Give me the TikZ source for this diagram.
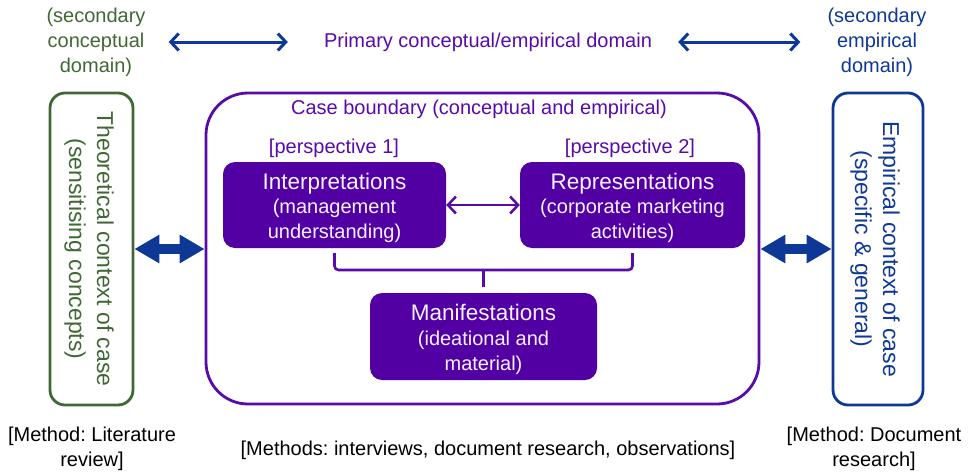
\documentclass[tikz,border=0pt]{standalone}
\usepackage{fontspec}
\setmainfont{Liberation Sans}
\usetikzlibrary{arrows.meta}

\definecolor{secgreen}{RGB}{64,104,52}
\definecolor{secblue}{RGB}{14,56,150}
\definecolor{caseviolet}{RGB}{88,10,170}
\definecolor{boxviolet}{RGB}{82,0,164}
\definecolor{boxtext}{RGB}{246,242,255}

\newcommand\fsz[2]{\fontsize{#1}{#2}\selectfont}
% title line of a phase box, with a strut that lowers the block a little
\newcommand\phasetitle[1]{{\fsz{22.5}{25}\rule{0pt}{22pt}#1}}
\frenchspacing

\begin{document}
\begin{tikzpicture}[x=1pt,y=-1pt,
  lbl/.style={inner sep=0pt, align=center, font=\fsz{20}{25}},
  method/.style={inner sep=0pt, align=center, font=\fsz{20}{25}},
  ctxbox/.style={draw, line width=2.8pt, rounded corners=15pt, inner sep=0pt,
                 minimum height=312pt},
  ctxtext/.style={inner sep=0pt, align=center, rotate=-90, font=\fsz{23}{28}},
  phase/.style={fill=boxviolet, rounded corners=12pt, text=boxtext, align=center,
                inner sep=0pt, font=\fsz{20}{24.5}},
  thin arrow/.style={line width=3pt,
                     {Straight Barb[length=8pt,width=17pt]}-{Straight Barb[length=8pt,width=17pt]}},
  fat arrow/.style={secblue, line width=10pt,
                    {Triangle[length=25pt,width=27pt]}-{Triangle[length=25pt,width=27pt]}}
]
\useasboundingbox (0,0) rectangle (969,474);

% domain headings
\node[lbl, text=secgreen] (secL) at (96,42) {(secondary\\conceptual\\domain)};
\node[lbl, text=caseviolet] (primary) at (488,42) {Primary conceptual/empirical domain};
\node[lbl, text=secblue] (secR) at (877,42) {(secondary\\empirical\\domain)};

\draw[thin arrow, secblue, shorten <=23pt, shorten >=36pt] (secL) -- (primary);
\draw[thin arrow, secblue, shorten <=26pt, shorten >=27pt] (primary) -- (secR);

% context boxes
\node[ctxbox, draw=secgreen, minimum width=83pt] (theo) at (91.5,249) {};
\node[ctxtext, text=secgreen] at (89,249) {Theoretical context of case\\(sensitising concepts)};

\node[ctxbox, draw=secblue, minimum width=90pt] (emp) at (878,249) {};
\node[ctxtext, text=secblue] at (875,249) {Empirical context of case\\(specific \& general)};

% case boundary
\node[draw=caseviolet, line width=2.8pt, rounded corners=42pt, inner sep=0pt,
      minimum width=553pt, minimum height=311pt] (case) at (482.5,248.5) {};
\node[lbl, text=caseviolet] (caselbl) at (479,109) {Case boundary (conceptual and empirical)};

\draw[fat arrow] (theo.east) -- (theo.east -| case.west);
\draw[fat arrow] (case.east |- emp.west) -- (emp.west);

% perspectives
\node[lbl, text=caseviolet] (p1) at (334,148) {[perspective 1]};
\node[lbl, text=caseviolet] (p2) at (630,148) {[perspective 2]};

\node[phase, minimum width=223pt, minimum height=86pt] (interp) at (334.5,205)
  {\phasetitle{Interpretations}\\(management\\understanding)};
\node[phase, minimum width=225pt, minimum height=86pt] (repr) at (632.5,205)
  {\phasetitle{Representations}\\(corporate marketing\\activities)};
\node[phase, minimum width=227pt, minimum height=87pt] (manif) at (483.5,336.5)
  {\phasetitle{Manifestations}\\[1pt](ideational and\\material)};

\draw[thin arrow, caseviolet, line width=2.5pt] (interp) -- (repr);

% brace joining both perspectives into the manifestations
\coordinate (join) at (483.5,270);
\draw[caseviolet, line width=2.6pt, rounded corners=4pt, shorten <=5pt, shorten >=5pt]
  (interp.south) |- (join) -| (repr.south);
\draw[caseviolet, line width=2.6pt, shorten >=6pt] (join) -- (manif.north);

% methods
\node[method] (m1) at (92,449) {[Method: Literature\\review]};
\node[method] (m2) at (488,450) {[Methods: interviews, document research, observations]};
\node[method] (m3) at (874,449) {[Method: Document\\research]};
\end{tikzpicture}
\end{document}
